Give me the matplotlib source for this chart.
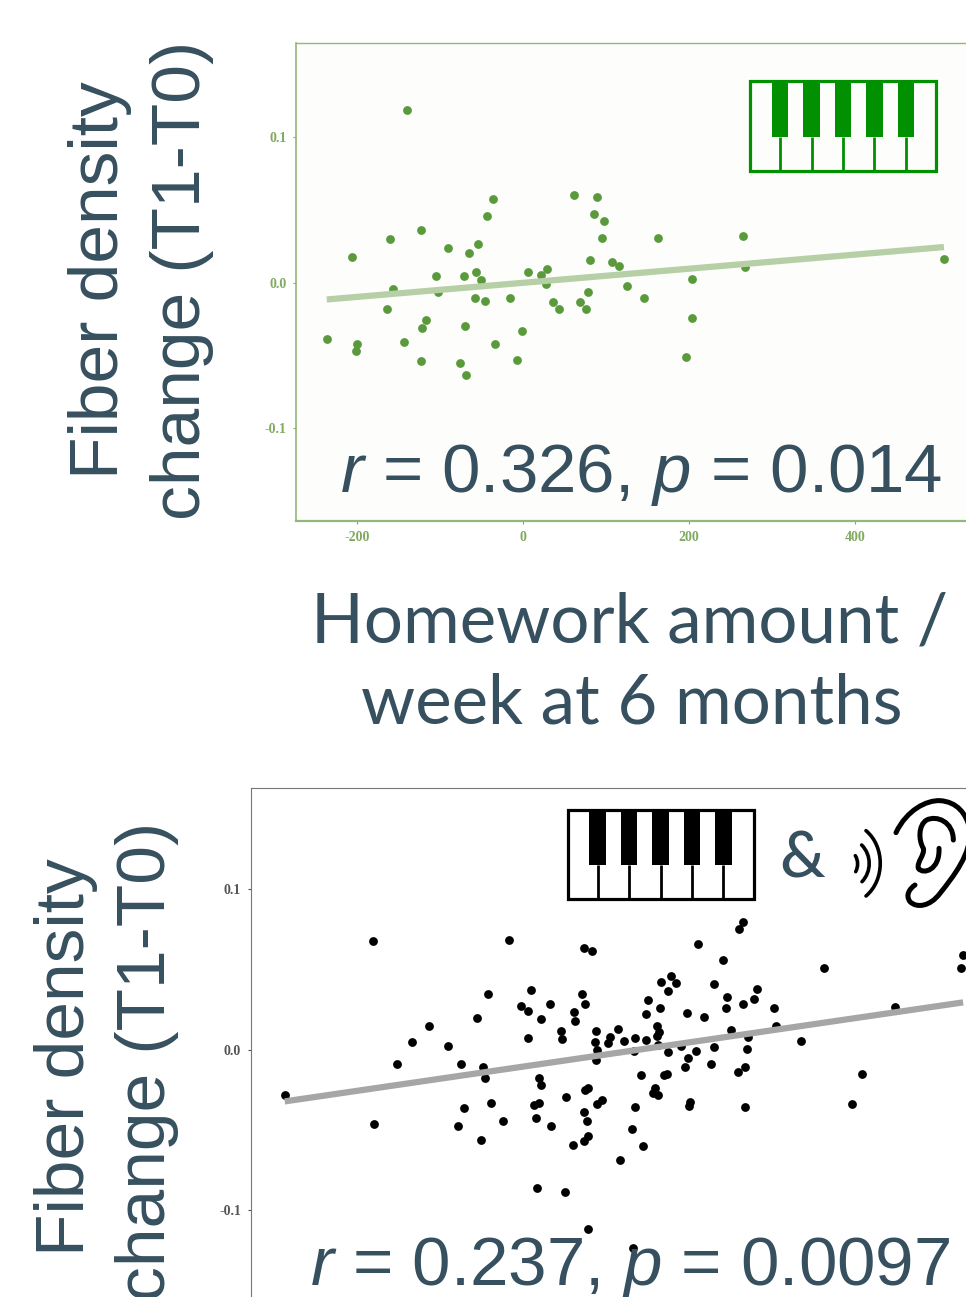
"""Two panels: fiber density change vs homework amount, with piano / ear icons."""
import matplotlib
matplotlib.use("Agg")
import matplotlib.pyplot as plt
from matplotlib.patches import Rectangle, PathPatch
from matplotlib.path import Path

W, H = 966, 1297
TEXT = "#36505F"

top_x = [-139.7, -206.5, -160.3, -123.4, -89.7, -64.7, -53.8, -43.5, -36.4, -104.3, -70.7, -56.0, -50.0,
         -156.5, -102.2, -164.1, -116.3, -121.2, -69.6, -142.9, -236.4, -199.5, -201.1, -122.3, -76.1,
         -68.5, -57.6, -45.7, -15.8, -1.1, -33.2, -7.1, 6.0, 22.3, 28.8, 28.3, 36.4, 43.5, 62.0, 89.1,
         85.3, 98.4, 95.7, 81.0, 107.6, 116.3, 78.8, 68.5, 75.5, 125.0, 145.7, 162.5, 203.3, 203.8,
         196.2, 265.2, 267.9, 507.6]
top_y = [.1188, .0179, .0300, .0362, .0236, .0202, .0266, .0461, .0576, .0048, .0044, .0071, .0018,
         -.0046, -.0062, -.0181, -.0255, -.0314, -.0296, -.0404, -.0388, -.0422, -.0466, -.0537, -.0548,
         -.0635, -.0103, -.0124, -.0108, -.0333, -.0424, -.0528, .0076, .0055, .0092, -.0009, -.0131,
         -.0179, .0603, .0589, .0475, .0424, .0305, .0154, .0142, .0117, -.0064, -.0135, -.0183, -.0021,
         -.0108, .0305, .0023, -.0243, -.0511, .0321, .0110, .0165]
top_fit_x = [-236.4, 507.6]
top_fit_y = [-.0115, .0245]

bot_x = [-375.5, -269.3, -105.7, -14.9, -5.7, 122.9, 172.3, 176.9, 152.2, 273.9, 441.6, 439.8, -268.2,
         -240.0, -222.2, -202.1, -179.2, -162.5, -136.1, -133.8, -144.1, -130.9, -79.2, -90.7, -82.7,
         -55.7, -66.6, -26.4, -25.3, -17.2, -13.8, -82.1, -42.5, -41.3, 0.0, -1.1, 0.6, -0.6, 13.8, 16.7,
         25.8, 33.3, 46.5, 60.3, 45.4, 73.5, 75.2, 72.9, 74.1, 62.6, 59.7, 76.4, 77.5, 90.1, 95.9, 86.1,
         109.1, 130.3, 101.6, 86.1, 110.2, 120.0, 107.4, 141.3, 137.8, 142.4, 157.3, 156.2, 176.9, 189.5,
         194.1, 214.2, 161.9, 183.2, 182.0, 217.0, 179.2, 171.1, 246.3, 360.0, 320.4, 308.3, -69.5, -66.6,
         -9.8, -13.2, -36.2, 6.9, 1.1, -68.9, -74.6, -126.9, -159.6, -72.3, -112.0, -167.1, -54.5, -14.4,
         -11.5, -10.3, -14.9, -27.6, -138.4, 46.5, 43.6, 56.3, 28.7, 54.0, 81.5, 85.6, 70.6, 68.3, 74.1,
         113.1, 111.4, 179.7, -71.2, -37.3, -9.8, 44.2]
bot_y = [-.0282, .0675, .0685, .0631, .0617, .0660, .0754, .0793, .0557, .0507, .0588, .0509, -.0461,
         -.0087, .0046, .0145, .0021, -.0087, -.0106, -.0179, .0195, .0345, .0374, .0270, .0243, .0287,
         .0189, .0235, .0177, .0345, .0282, .0075, .0118, .0066, .0114, .0050, .0000, -.0062, .0044, .0081,
         .0127, .0056, .0071, .0062, -.0010, .0145, .0110, .0085, .0027, .0312, .0220, .0262, .0422, .0461,
         .0413, .0368, .0231, .0204, .0025, -.0017, -.0050, -.0010, -.0110, .0015, -.0089, .0409, .0330,
         .0262, .0282, .0314, .0380, .0262, .0123, .0079, .0006, .0147, -.0106, -.0137, .0052, .0264, -.0154,
         -.0339, -.0174, -.0218, -.0237, -.0251, -.0297, -.0312, -.0341, -.0334, -.0347, -.0332, -.0363,
         -.0428, -.0442, -.0474, -.0478, -.0386, -.0442, -.0536, -.0567, -.0596, -.0561, -.0357, -.0496,
         -.0602, -.0685, -.0160, -.0156, -.0150, -.0237, -.0270, -.0280, -.0324, -.0351, -.0357, -.0864,
         -.0889, -.1117, -.1236]
bot_fit_x = [-375.5, 442.1]
bot_fit_y = [-.0322, .0295]

top_xticks = [-200, 0, 200, 400]
yticks = [-0.1, 0.0, 0.1]

plt.rcParams["font.family"] = "Liberation Sans"
plt.rcParams["mathtext.fontset"] = "custom"
plt.rcParams["mathtext.rm"] = "Liberation Sans"
plt.rcParams["mathtext.it"] = "Liberation Sans:italic"


def px_axes(fig, left, top, right, bottom, **kw):
    return fig.add_axes([left / W, 1 - bottom / H, (right - left) / W, (bottom - top) / H], **kw)


def piano(ax, x0, y0, w, h, color):
    # outer box, five black keys, five separators under them
    ax.add_patch(Rectangle((x0, y0), w, h, fill=False, ec=color, lw=2.3))
    for i in range(5):
        kx = x0 + w * (0.118 + 0.169 * i)
        kw = w * 0.088
        ax.add_patch(Rectangle((kx, y0), kw, h * 0.62, fc=color, ec="none"))
        ax.plot([kx + kw / 2] * 2, [y0 + h * 0.62, y0 + h], color=color, lw=2.0, solid_capstyle="butt")


def stroke(ax, pts, lw):
    # pts: start point, then triples of cubic bezier points; crop coords of the icon
    verts = [(740 + x / 3, 790 + y / 3) for x, y in pts]
    codes = [Path.MOVETO] + [Path.CURVE4] * (len(verts) - 1)
    ax.add_patch(PathPatch(Path(verts, codes), fc="none", ec="black", lw=lw, capstyle="round"))


def ear(ax):
    stroke(ax, [(468, 128), (500, 60), (560, 30), (600, 32), (650, 35), (680, 70), (690, 120),
                (695, 190), (640, 260), (600, 310), (570, 350), (530, 355), (510, 335),
                (495, 315), (510, 295), (525, 285)], 3.6)
    stroke(ax, [(640, 150), (640, 95), (590, 75), (560, 90), (535, 105), (535, 150), (550, 175),
                (555, 195), (530, 215), (535, 235), (550, 255), (600, 240), (597, 175)], 3.6)
    stroke(ax, [(346, 197), (355, 212), (355, 230), (347, 245)], 2.6)
    stroke(ax, [(365, 165), (395, 195), (395, 245), (366, 275)], 2.6)
    stroke(ax, [(378, 122), (435, 170), (435, 270), (378, 318)], 2.6)


fig = plt.figure(figsize=(W / 100, H / 100), dpi=100, facecolor="white")

# ---------------------------------------------------------------- top panel
ax = px_axes(fig, 296, 43, 967, 521, facecolor="#FDFDFB")
ax.scatter(top_x, top_y, s=40, color="#5A9A3C", linewidths=0, zorder=2)
ax.plot(top_fit_x, top_fit_y, color="#B7CFA6", lw=4.5, solid_capstyle="butt", zorder=3)
ax.set_xlim(-273.5, 535.4)
ax.set_ylim(-0.1636, 0.1646)
ax.set_xticks(top_xticks, [str(t) for t in top_xticks])
ax.set_yticks(yticks, [f"{t:.1f}" for t in yticks])
ax.tick_params(colors="#7FAA5F", length=2.5, width=0.8, labelsize=10, pad=4.5)
ax.tick_params(axis="x", pad=5)
for lab in ax.get_xticklabels() + ax.get_yticklabels():
    lab.set_family("Liberation Serif")
    lab.set_weight("bold")
ax.spines["right"].set_visible(False)
for side in ["top", "left", "bottom"]:
    ax.spines[side].set_color("#93B67B")
ax.spines["top"].set_linewidth(1.0)
ax.spines["left"].set_linewidth(1.2)
ax.spines["bottom"].set_linewidth(1.6)

# ---------------------------------------------------------------- bottom panel
ax2 = px_axes(fig, 251.4, 788, 967, 1297)
ax2.scatter(bot_x, bot_y, s=40, color="black", linewidths=0, zorder=2)
ax2.plot(bot_fit_x, bot_fit_y, color="#A6A6A6", lw=4.5, solid_capstyle="butt", zorder=3)
ax2.set_xlim(-415.7, 446.8)
ax2.set_ylim(-0.1541, 0.1631)
ax2.set_xticks([])
ax2.set_yticks(yticks, [f"{t:.1f}" for t in yticks])
ax2.tick_params(colors="#555555", length=2.5, width=0.8, labelsize=10, pad=5)
for lab in ax2.get_yticklabels():
    lab.set_family("Liberation Serif")
    lab.set_weight("bold")
ax2.spines["right"].set_visible(False)
ax2.spines["bottom"].set_visible(False)
ax2.spines["top"].set_color("#777777")
ax2.spines["left"].set_color("#777777")

# ---------------------------------------------------------------- overlay in pixels
ov = fig.add_axes([0, 0, 1, 1], facecolor="none")
ov.set_xlim(0, W)
ov.set_ylim(H, 0)
ov.axis("off")

ov.text(340, 491.5, "$r$ = 0.326, $p$ = 0.014", fontsize=49.7, color=TEXT, va="baseline")
ov.text(310, 1285, "$r$ = 0.237, $p$ = 0.0097", fontsize=49.8, color=TEXT, va="baseline")

for x, y, s, ha in [(118, 479, "Fiber density", "left"), (200, 520, "change (T1-T0)", "left"),
                    (84, 1256, "Fiber density", "left"), (165, 822, "change (T1-T0)", "right")]:
    ov.text(x, y, s, fontsize=50, color=TEXT, rotation=90, rotation_mode="anchor", ha=ha, va="baseline")

ov.text(630, 642, "Homework amount /", family="Lato", fontsize=49.7, color=TEXT, ha="center", va="baseline")
ov.text(632, 724, "week at 6 months", family="Lato", fontsize=49.7, color=TEXT, ha="center", va="baseline")
ov.text(802, 877, "&", family="Lato", weight="medium", fontsize=46, color=TEXT, ha="center", va="baseline")

piano(ov, 750, 81, 186, 90, "#009000")
piano(ov, 567.5, 810, 186, 89, "black")
ear(ov)

fig.savefig("out.png", dpi=100)
